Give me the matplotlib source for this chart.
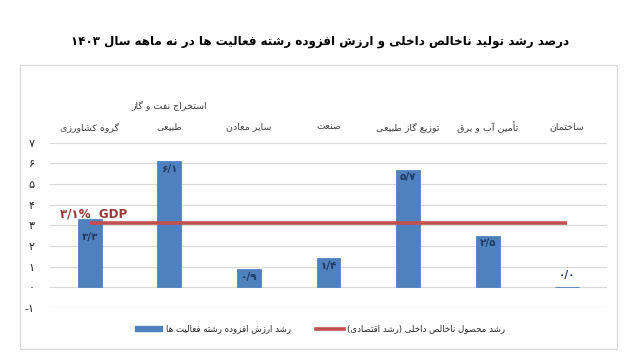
import re
import numpy as np
import matplotlib
matplotlib.use("Agg")
import matplotlib.pyplot as plt
from matplotlib.patches import Rectangle, Patch
from matplotlib.lines import Line2D
import matplotlib.transforms as mtransforms

# data
categories = ["گروه کشاورزی", "استخراج نفت و گاز\nطبیعی", "سایر معادن", "صنعت",
              "توزیع گاز طبیعی", "تأمین آب و برق", "ساختمان"]
growth = [3.3, 6.1, 0.9, 1.4, 5.7, 2.5, 0.0]
gdp_growth = 3.1
yticks = [-1, 0, 1, 2, 3, 4, 5, 6, 7]

title = "درصد رشد تولید ناخالص داخلی و ارزش افزوده رشته فعالیت ها در نه ماهه سال ۱۴۰۳"
legend_bars = "رشد ارزش افزوده رشته فعالیت ها"
legend_line = "رشد محصول ناخالص داخلی (رشد اقتصادی)"

# --- minimal persian shaping (matplotlib has no bidi / shaping) ---
FORMS = {
    "ا": "\uFE8D\uFE8E", "آ": "\uFE81\uFE82", "أ": "\uFE83\uFE84", "ؤ": "\uFE85\uFE86",
    "د": "\uFEA9\uFEAA", "ذ": "\uFEAB\uFEAC", "ر": "\uFEAD\uFEAE", "ز": "\uFEAF\uFEB0",
    "ژ": "\uFB8A\uFB8B", "و": "\uFEED\uFEEE",
    "ب": "\uFE8F\uFE90\uFE91\uFE92", "پ": "\uFB56\uFB57\uFB58\uFB59",
    "ت": "\uFE95\uFE96\uFE97\uFE98", "ث": "\uFE99\uFE9A\uFE9B\uFE9C",
    "ج": "\uFE9D\uFE9E\uFE9F\uFEA0", "چ": "\uFB7A\uFB7B\uFB7C\uFB7D",
    "ح": "\uFEA1\uFEA2\uFEA3\uFEA4", "خ": "\uFEA5\uFEA6\uFEA7\uFEA8",
    "س": "\uFEB1\uFEB2\uFEB3\uFEB4", "ش": "\uFEB5\uFEB6\uFEB7\uFEB8",
    "ص": "\uFEB9\uFEBA\uFEBB\uFEBC", "ض": "\uFEBD\uFEBE\uFEBF\uFEC0",
    "ط": "\uFEC1\uFEC2\uFEC3\uFEC4", "ظ": "\uFEC5\uFEC6\uFEC7\uFEC8",
    "ع": "\uFEC9\uFECA\uFECB\uFECC", "غ": "\uFECD\uFECE\uFECF\uFED0",
    "ف": "\uFED1\uFED2\uFED3\uFED4", "ق": "\uFED5\uFED6\uFED7\uFED8",
    "ک": "\uFB8E\uFB8F\uFB90\uFB91", "گ": "\uFB92\uFB93\uFB94\uFB95",
    "ل": "\uFEDD\uFEDE\uFEDF\uFEE0", "م": "\uFEE1\uFEE2\uFEE3\uFEE4",
    "ن": "\uFEE5\uFEE6\uFEE7\uFEE8", "ه": "\uFEE9\uFEEA\uFEEB\uFEEC",
    "ی": "\uFBFC\uFBFD\uFBFE\uFBFF", "ئ": "\uFE89\uFE8A\uFE8B\uFE8C",
}
LAM_ALEF = {"ا": "\uFEFB\uFEFC", "آ": "\uFEF5\uFEF6", "أ": "\uFEF7\uFEF8"}


def shape_line(s):
    out = []
    i = 0
    n = len(s)
    while i < n:
        ch = s[i]
        prev = s[i - 1] if i > 0 else ""
        join_prev = prev in FORMS and len(FORMS[prev]) == 4
        if ch == "ل" and i + 1 < n and s[i + 1] in LAM_ALEF:
            out.append(LAM_ALEF[s[i + 1]][1 if join_prev else 0])
            i += 2
            continue
        if ch not in FORMS:
            out.append(ch)
            i += 1
            continue
        f = FORMS[ch]
        nxt = s[i + 1] if i + 1 < n else ""
        join_next = len(f) == 4 and nxt in FORMS
        if join_prev and join_next:
            out.append(f[3])
        elif join_prev:
            out.append(f[1])
        elif join_next:
            out.append(f[2])
        else:
            out.append(f[0])
        i += 1
    vis = "".join(out)[::-1]
    vis = vis.translate(str.maketrans("()", ")("))
    # digit runs stay left-to-right
    vis = re.sub(r"[0-9۰-۹/%.]+", lambda m: m.group(0)[::-1], vis)
    return vis


def fa(s):
    return "\n".join(shape_line(line) for line in s.split("\n"))


def fa_num(v):
    s = f"{v:.1f}".replace(".", "/")
    return s.translate(str.maketrans("0123456789-", "۰۱۲۳۴۵۶۷۸۹-"))


plt.rcParams["font.family"] = ["DejaVu Sans"]

fig = plt.figure(figsize=(6.4, 3.6), dpi=100)
W, H = 640, 360
ax = fig.add_axes([50 / W, 1 - 308 / H, 557 / W, (308 - 142.7) / H])

bar_color = "#4F81BD"
line_color = "#C0504D"
x = np.arange(len(categories))

ax.bar(x, growth, width=0.30, color=bar_color, edgecolor=bar_color, linewidth=0.6, zorder=2)
ax.plot([x[0], x[-1]], [gdp_growth, gdp_growth], color=line_color, lw=2.6, zorder=3,
        solid_capstyle="butt")

ax.set_xlim(-0.5, len(categories) - 0.5)
ax.set_ylim(-1, 7)
ax.set_yticks(yticks)
ax.set_yticklabels([fa_num(v).replace("/۰", "") for v in yticks], fontsize=8, color="#262626")
ax.tick_params(axis="y", length=0, pad=11)
ax.set_xticks([])
ax.grid(axis="y", color="#D9D9D9", lw=0.9, zorder=0)
for sp in ax.spines.values():
    sp.set_visible(False)

# category labels above the plot
trans = mtransforms.blended_transform_factory(ax.transData, ax.transAxes)
for i, cat in enumerate(categories):
    lines = cat.split("\n")
    for j, line in enumerate(reversed(lines)):
        ax.text(i, 1 + (16 + 22 * j) / (308 - 142.7), fa(line), transform=trans,
                ha="center", va="center", fontsize=6.8, color="#404040")

# value labels
for i, v in enumerate(growth):
    if v <= 0.05:
        off, va = 5, "bottom"
    elif i == 0:
        off, va = -9, "top"
    else:
        off, va = -2, "top"
    ax.annotate(fa_num(v), (i, v), xytext=(0, off), textcoords="offset points",
                ha="center", va=va, fontsize=7.5, fontweight="bold", color="#1F3864")

ax.text(-0.38, gdp_growth + 0.45, "۳/۱%  GDP", fontsize=8.6, fontweight="bold",
        color="#953735", ha="left", va="center")

fig.text(0.5, 1 - 41 / H, fa(title), fontsize=8.6, fontweight="bold",
         ha="center", va="center", color="black")

# chart area border
fig.patches.append(Rectangle((20 / W, 1 - 349 / H), 597 / W, 284 / H, transform=fig.transFigure,
                             fill=False, edgecolor="#D9D9D9", lw=0.9))

handles = [Patch(facecolor=bar_color, edgecolor=bar_color),
           Line2D([0], [0], color=line_color, lw=2.6)]
fig.legend(handles, [fa(legend_bars), fa(legend_line)], ncol=2, loc="center",
           bbox_to_anchor=(320 / W, 1 - 329 / H), frameon=False, fontsize=6.2,
           handlelength=3.2, handleheight=0.6, columnspacing=3.0, handletextpad=0.4,
           labelcolor="#262626")

fig.savefig("out.png", dpi=100)
